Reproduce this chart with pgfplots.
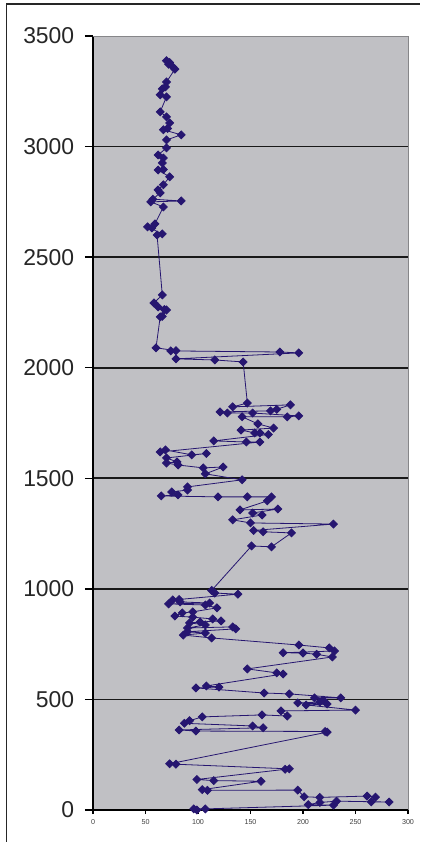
\documentclass[border=0pt]{standalone}
\usepackage{pgfplots}
\pgfplotsset{compat=1.18}
\usepackage{fontspec}
\setmainfont{Liberation Sans}

\definecolor{plotgrey}{RGB}{192,192,196}
\definecolor{series}{RGB}{38,22,112}

\begin{document}
\begin{tikzpicture}[x=1bp,y=1bp]
\useasboundingbox (0,0) rectangle (420,842);
% chart frame (left and top)
\draw[line width=1.3bp, black!85] (6.5,0) -- (6.5,838) -- (420,838);
\begin{axis}[
    at={(93bp,32bp)}, anchor=south west,
    scale only axis,
    width=315bp, height=774bp,
    xmin=0, xmax=300, ymin=0, ymax=3500,
    axis x line*=bottom, axis y line*=left,
    axis line style={black, line width=1.5bp},
    axis background/.style={fill=plotgrey},
    xtick={0,50,...,300},
    ytick={0,500,...,3000},
    extra y ticks={3500},
    extra tick style={grid=none},
    ymajorgrids,
    major grid style={black!90, line width=1.6bp},
    tick align=outside,
    tick style={black, line width=1.3bp},
    xtick style={/pgfplots/major tick length=4bp},
    ytick style={/pgfplots/major tick length=8bp},
    /pgf/number format/assume math mode=true,
    /pgf/number format/1000 sep={},
    yticklabel style={font=\fontsize{23}{23}\selectfont, text=black!85, anchor=east, xshift=-11bp},
    xticklabel style={font=\fontsize{7.2}{8}\selectfont, text=black!75, yshift=-2bp},
    clip=false,
]
% grey frame on top and right
\draw[plotgrey!70!black, line width=0.8bp] (rel axis cs:0,1) -- (rel axis cs:1,1) -- (rel axis cs:1,0);
\addplot[series, line width=0.8bp, mark=square*, mark size=2.8bp,
    mark options={rotate=45, fill=series, draw=series}] coordinates {
(99,0) (96,5) (107,5) (229,22) (205,24) (216,34) (232,40) (282,36) (265,37)
(269,58) (261,63) (216,57) (201,60) (195,90) (109,89) (104,92)
(160,130) (115,133) (99,138) (183,184) (187,186) (79,207) (73,209)
(223,352) (221,355) (98,357) (82,362) (162,372) (152,380) (87,392) (92,404)
(104,421) (161,430) (185,425) (179,448) (250,452) (203,475) (223,479)
(195,484) (216,488) (219,497) (211,507) (236,507) (187,525) (163,529)
(98,552) (120,556) (108,561) (181,615) (175,620) (147,638) (228,692)
(213,704) (200,710) (181,711) (230,719) (225,733) (196,746) (113,778)
(86,791) (107,800) (90,806) (136,819) (133,828) (90,823) (107,837)
(92,846) (102,850) (122,855) (114,864) (95,872) (78,877) (85,891)
(95,896) (118,914) (107,927) (72,932) (111,936) (83,941) (76,950)
(82,952) (138,976) (116,981) (113,993) (151,1194) (170,1190)
(189,1253) (162,1258) (153,1264) (229,1293) (150,1298) (133,1312)
(161,1334) (152,1343) (176,1361) (140,1357) (166,1398) (170,1416)
(147,1416) (119,1416) (65,1420) (81,1425) (75,1438) (90,1447)
(90,1461) (142,1493) (107,1520) (124,1551) (105,1547) (81,1560)
(70,1569) (80,1574) (70,1592) (108,1612) (94,1606) (69,1628) (64,1619)
(159,1664) (146,1664) (115,1669) (167,1698) (159,1705) (154,1705)
(141,1718) (172,1727) (157,1746) (142,1778) (185,1778) (196,1782)
(152,1795) (128,1795) (121,1800) (169,1805) (175,1812) (188,1832)
(133,1823) (147,1840) (143,2026) (116,2035) (79,2040) (196,2067)
(178,2071) (74,2076) (79,2077) (60,2090) (64,2230) (66,2232)
(70,2261) (68,2263) (62,2275) (58,2293) (66,2329) (61,2600)
(66,2605) (52,2637) (56,2632) (59,2650) (67,2727) (55,2750)
(84,2754) (57,2762) (64,2791) (62,2804) (67,2827) (73,2863)
(62,2894) (67,2896) (66,2926) (67,2948) (62,2962) (70,2994)
(70,3030) (84,3053) (67,3076) (71,3082) (73,3107) (70,3134)
(64,3157) (70,3225) (64,3234) (66,3261) (69,3270) (70,3292)
(78,3350) (76,3360) (72,3372) (73,3380) (70,3388)
};
\end{axis}
\end{tikzpicture}
\end{document}
